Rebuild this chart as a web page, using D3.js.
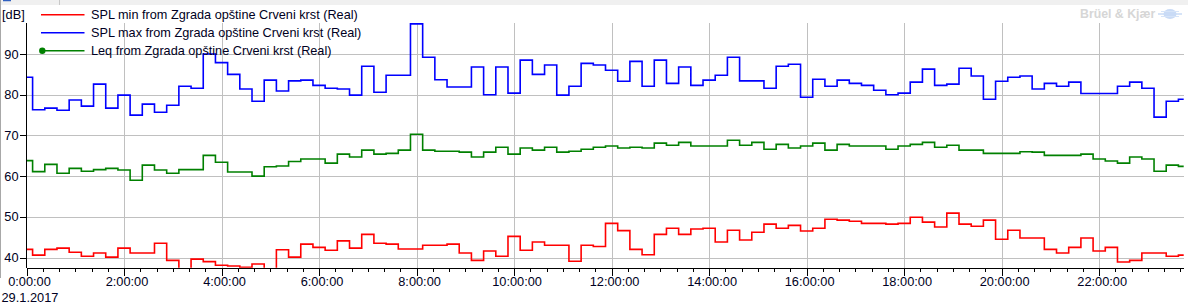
<!DOCTYPE html>
<html>
<head>
<meta charset="utf-8">
<script src="https://cdn.jsdelivr.net/npm/d3@7"></script>
<style>
  html, body { margin: 0; padding: 0; background: #ffffff; }
  svg { display: block; }
  text { font-family: "Liberation Sans", Arial, sans-serif; }
</style>
</head>
<body>
<svg id="chart" width="1188" height="305"></svg>
<script>
// ---------- data (15-minute intervals starting 29.1.2017 0:00:00) ----------
const startTime = "2017-01-29T00:00:00";
const intervalMinutes = 15;

const minVals = [42.0,40.6,42.0,42.3,41.3,40.3,41.1,40.1,42.3,41.1,41.1,43.5,39.3,37.0,39.6,39.0,
  38.1,37.9,37.6,38.4,37.0,41.9,40.1,43.3,42.5,41.8,44.1,42.3,45.7,43.5,43.3,42.1,
  42.1,43.0,43.0,43.3,41.1,39.3,41.6,40.3,45.2,41.8,43.8,43.0,43.0,39.1,43.0,42.7,
  48.4,46.6,42.0,40.7,45.7,47.2,45.7,47.0,47.2,43.8,46.7,44.3,46.2,48.2,47.2,47.9,
  46.5,47.2,49.4,49.2,48.9,48.4,48.4,48.2,48.4,49.9,48.7,47.5,50.9,48.2,47.7,49.2,
  44.5,46.7,44.8,44.8,42.0,41.1,42.5,44.8,41.6,42.5,38.9,39.3,41.1,41.1,40.3,40.6];

const maxVals = [84.3,76.3,76.7,76.2,78.7,77.2,82.6,76.7,79.9,75.0,77.7,75.7,77.4,82.1,81.6,90.0,
  87.9,85.0,81.4,78.4,83.6,80.9,83.4,83.6,82.3,81.6,81.4,79.9,87.0,80.6,84.8,84.8,
  97.4,89.2,83.7,81.9,81.9,86.8,80.0,86.8,80.4,88.5,85.0,87.3,79.9,82.1,87.7,87.3,
  86.0,83.3,88.2,82.1,88.5,82.8,86.8,82.3,83.6,84.8,89.2,83.4,83.4,81.6,87.0,87.5,
  79.4,83.8,82.1,83.6,82.8,82.3,81.1,80.0,80.4,83.1,86.3,82.3,82.6,86.5,84.6,78.9,
  83.3,84.3,84.6,81.4,82.8,82.1,83.1,80.3,80.3,80.3,82.1,83.1,81.6,74.5,78.4,78.9];

const leqVals = [63.8,61.1,62.9,60.7,61.9,61.2,61.6,61.9,61.5,59.0,62.7,61.5,60.7,61.6,61.6,65.1,
  63.4,61.0,61.0,60.0,62.3,62.5,63.6,64.2,64.2,63.2,65.4,64.7,66.4,65.4,65.6,66.4,
  70.3,66.4,66.1,66.1,65.9,64.7,65.9,67.1,65.4,66.9,66.4,67.1,65.9,66.1,66.6,67.1,
  67.4,66.9,67.1,66.9,68.1,67.6,68.3,67.4,67.4,67.4,68.8,67.6,68.3,66.6,67.8,66.9,
  67.4,68.1,66.4,67.8,67.4,67.4,67.4,66.6,67.4,67.8,68.3,67.1,67.6,66.4,66.4,65.6,
  65.6,65.6,66.0,65.9,65.1,65.1,65.1,65.4,64.2,63.7,63.2,64.7,64.2,61.2,62.7,62.4];

const seriesNames = [
  "SPL min from Zgrada opštine Crveni krst (Real)",
  "SPL max from Zgrada opštine Crveni krst (Real)",
  "Leq from Zgrada opštine Crveni krst (Real)"
];
const seriesColors = ["#ff0000", "#0000ff", "#008000"];
const yTickValues = [40, 50, 60, 70, 80, 90];
const yUnitLabel = "[dB]";
const dateLabel = "29.1.2017";
const logoText = "Brüel & Kjær";

// ---------- layout ----------
const svg = d3.select("#chart");
const W = 1188, H = 305;
const plot = { left: 26.5, right: 1183.7, top: 22.7, bottom: 267.7 };

const t0 = new Date(startTime);
const tEnd = d3.timeMinute.offset(t0, 23 * 60 + 44);
const times = minVals.map((_, i) => d3.timeMinute.offset(t0, i * intervalMinutes));

const x = d3.scaleTime().domain([t0, tEnd]).range([plot.left, plot.right]);
const y = d3.scaleLinear().domain([37.5, 97.7]).range([plot.bottom, plot.top]);

// top strip / window chrome remnants
svg.append("rect").attr("x", 0).attr("y", 0).attr("width", W).attr("height", 5).attr("fill", "#f0f0f0");
svg.append("line").attr("x1", 3).attr("x2", 11).attr("y1", 0.5).attr("y2", 0.5).attr("stroke", "#3060c0").attr("stroke-width", 1.5);
svg.append("line").attr("x1", 59.5).attr("x2", 59.5).attr("y1", 0).attr("y2", 5).attr("stroke", "#c8c8c8");
svg.append("line").attr("x1", 0.5).attr("x2", 0.5).attr("y1", 0).attr("y2", 278).attr("stroke", "#a8a8a8");

// grid
const grid = svg.append("g").attr("shape-rendering", "crispEdges");
grid.selectAll(".hg").data(yTickValues).join("line")
  .attr("x1", plot.left).attr("x2", plot.right)
  .attr("y1", d => Math.round(y(d)) + 0.5).attr("y2", d => Math.round(y(d)) + 0.5)
  .attr("stroke", "#c0c0c0").attr("stroke-width", 1);

const majorTicks = d3.timeHour.every(2).range(t0, tEnd);
grid.selectAll(".vg").data(majorTicks.slice(1)).join("line")
  .attr("x1", d => Math.round(x(d)) + 0.5).attr("x2", d => Math.round(x(d)) + 0.5)
  .attr("y1", plot.top).attr("y2", plot.bottom)
  .attr("stroke", "#c0c0c0").attr("stroke-width", 1);

// clip
svg.append("clipPath").attr("id", "clip").append("rect")
  .attr("x", plot.left).attr("y", plot.top - 3)
  .attr("width", plot.right - plot.left).attr("height", plot.bottom - plot.top + 3);

const line = d3.line().x(d => x(d[0])).y(d => y(d[1])).curve(d3.curveStep);
const allSeries = [minVals, maxVals, leqVals];
const lines = svg.append("g").attr("clip-path", "url(#clip)");
allSeries.forEach((vals, k) => {
  lines.append("path")
    .datum(vals.map((v, i) => [times[i], v]))
    .attr("d", line)
    .attr("fill", "none")
    .attr("stroke", seriesColors[k])
    .attr("stroke-width", 1.6);
});

// axes
const axisColor = "#000000";
const labelColor = "#000022";
svg.append("line").attr("x1", plot.left).attr("x2", plot.left)
  .attr("y1", plot.top).attr("y2", plot.bottom + 0.5).attr("stroke", axisColor).attr("shape-rendering", "crispEdges");
svg.append("line").attr("x1", plot.left).attr("x2", plot.right)
  .attr("y1", Math.round(plot.bottom) + 0.5).attr("y2", Math.round(plot.bottom) + 0.5)
  .attr("stroke", axisColor).attr("shape-rendering", "crispEdges");

// y ticks and labels
const yAx = svg.append("g");
yAx.selectAll("line").data(yTickValues).join("line")
  .attr("x1", plot.left - 6.5).attr("x2", plot.left)
  .attr("y1", d => Math.round(y(d)) + 0.5).attr("y2", d => Math.round(y(d)) + 0.5)
  .attr("stroke", axisColor).attr("shape-rendering", "crispEdges");
yAx.selectAll("text").data(yTickValues).join("text")
  .attr("x", 18.5).attr("y", d => y(d) + 4.6)
  .attr("text-anchor", "end").attr("font-size", 12.8).attr("fill", labelColor)
  .text(d => d);

// x ticks
const minorTicks = d3.timeMinute.every(20).range(t0, tEnd);
const xb = Math.round(plot.bottom) + 0.5;
const xAx = svg.append("g").attr("shape-rendering", "crispEdges");
xAx.selectAll(".mn").data(minorTicks).join("line")
  .attr("x1", d => Math.round(x(d)) + 0.5).attr("x2", d => Math.round(x(d)) + 0.5)
  .attr("y1", xb).attr("y2", xb + 3.5).attr("stroke", axisColor);
xAx.selectAll(".mj").data(majorTicks).join("line")
  .attr("x1", d => Math.round(x(d)) + 0.5).attr("x2", d => Math.round(x(d)) + 0.5)
  .attr("y1", xb).attr("y2", xb + 7).attr("stroke", axisColor);
const fmt = d3.timeFormat("%-H:%M:%S");
svg.append("g").selectAll("text").data(majorTicks).join("text")
  .attr("x", d => x(d) + 3).attr("y", 286)
  .attr("text-anchor", "middle").attr("font-size", 12.8).attr("fill", labelColor)
  .text(d => fmt(d));
svg.append("text").attr("x", 1.5).attr("y", 301.5).attr("font-size", 12.8).attr("fill", labelColor).text(dateLabel);

// unit label
svg.append("text").attr("x", 2).attr("y", 19).attr("font-size", 12.8).attr("fill", labelColor).text(yUnitLabel);

// legend
const lg = svg.append("g");
seriesNames.forEach((name, k) => {
  const ly = 14.7 + k * 18;
  lg.append("line").attr("x1", 41).attr("x2", 84.5).attr("y1", ly).attr("y2", ly)
    .attr("stroke", seriesColors[k]).attr("stroke-width", 1.5);
  if (k === 2) {
    lg.append("circle").attr("cx", 42.3).attr("cy", ly).attr("r", 3.2).attr("fill", seriesColors[k]);
  }
  lg.append("text").attr("x", 91).attr("y", ly + 4.7).attr("font-size", 12.7).attr("fill", "#000022").text(name);
});

// logo
svg.append("text").attr("x", 1080).attr("y", 18.2).attr("font-size", 12.3).attr("font-weight", "bold")
  .attr("fill", "#d6d6d6").text(logoText);
const logo = svg.append("g").attr("transform", "translate(1170,14)");
logo.append("ellipse").attr("rx", 6.5).attr("ry", 5).attr("fill", "#c9dbf6");
logo.append("line").attr("x1", -12).attr("x2", 12).attr("y1", 0).attr("y2", 0).attr("stroke", "#c9dbf6").attr("stroke-width", 1.5);
logo.append("line").attr("x1", -9).attr("x2", 9).attr("y1", -2.5).attr("y2", -2.5).attr("stroke", "#d6e4f8").attr("stroke-width", 1);
logo.append("line").attr("x1", -9).attr("x2", 9).attr("y1", 2.5).attr("y2", 2.5).attr("stroke", "#d6e4f8").attr("stroke-width", 1);
</script>
</body>
</html>
